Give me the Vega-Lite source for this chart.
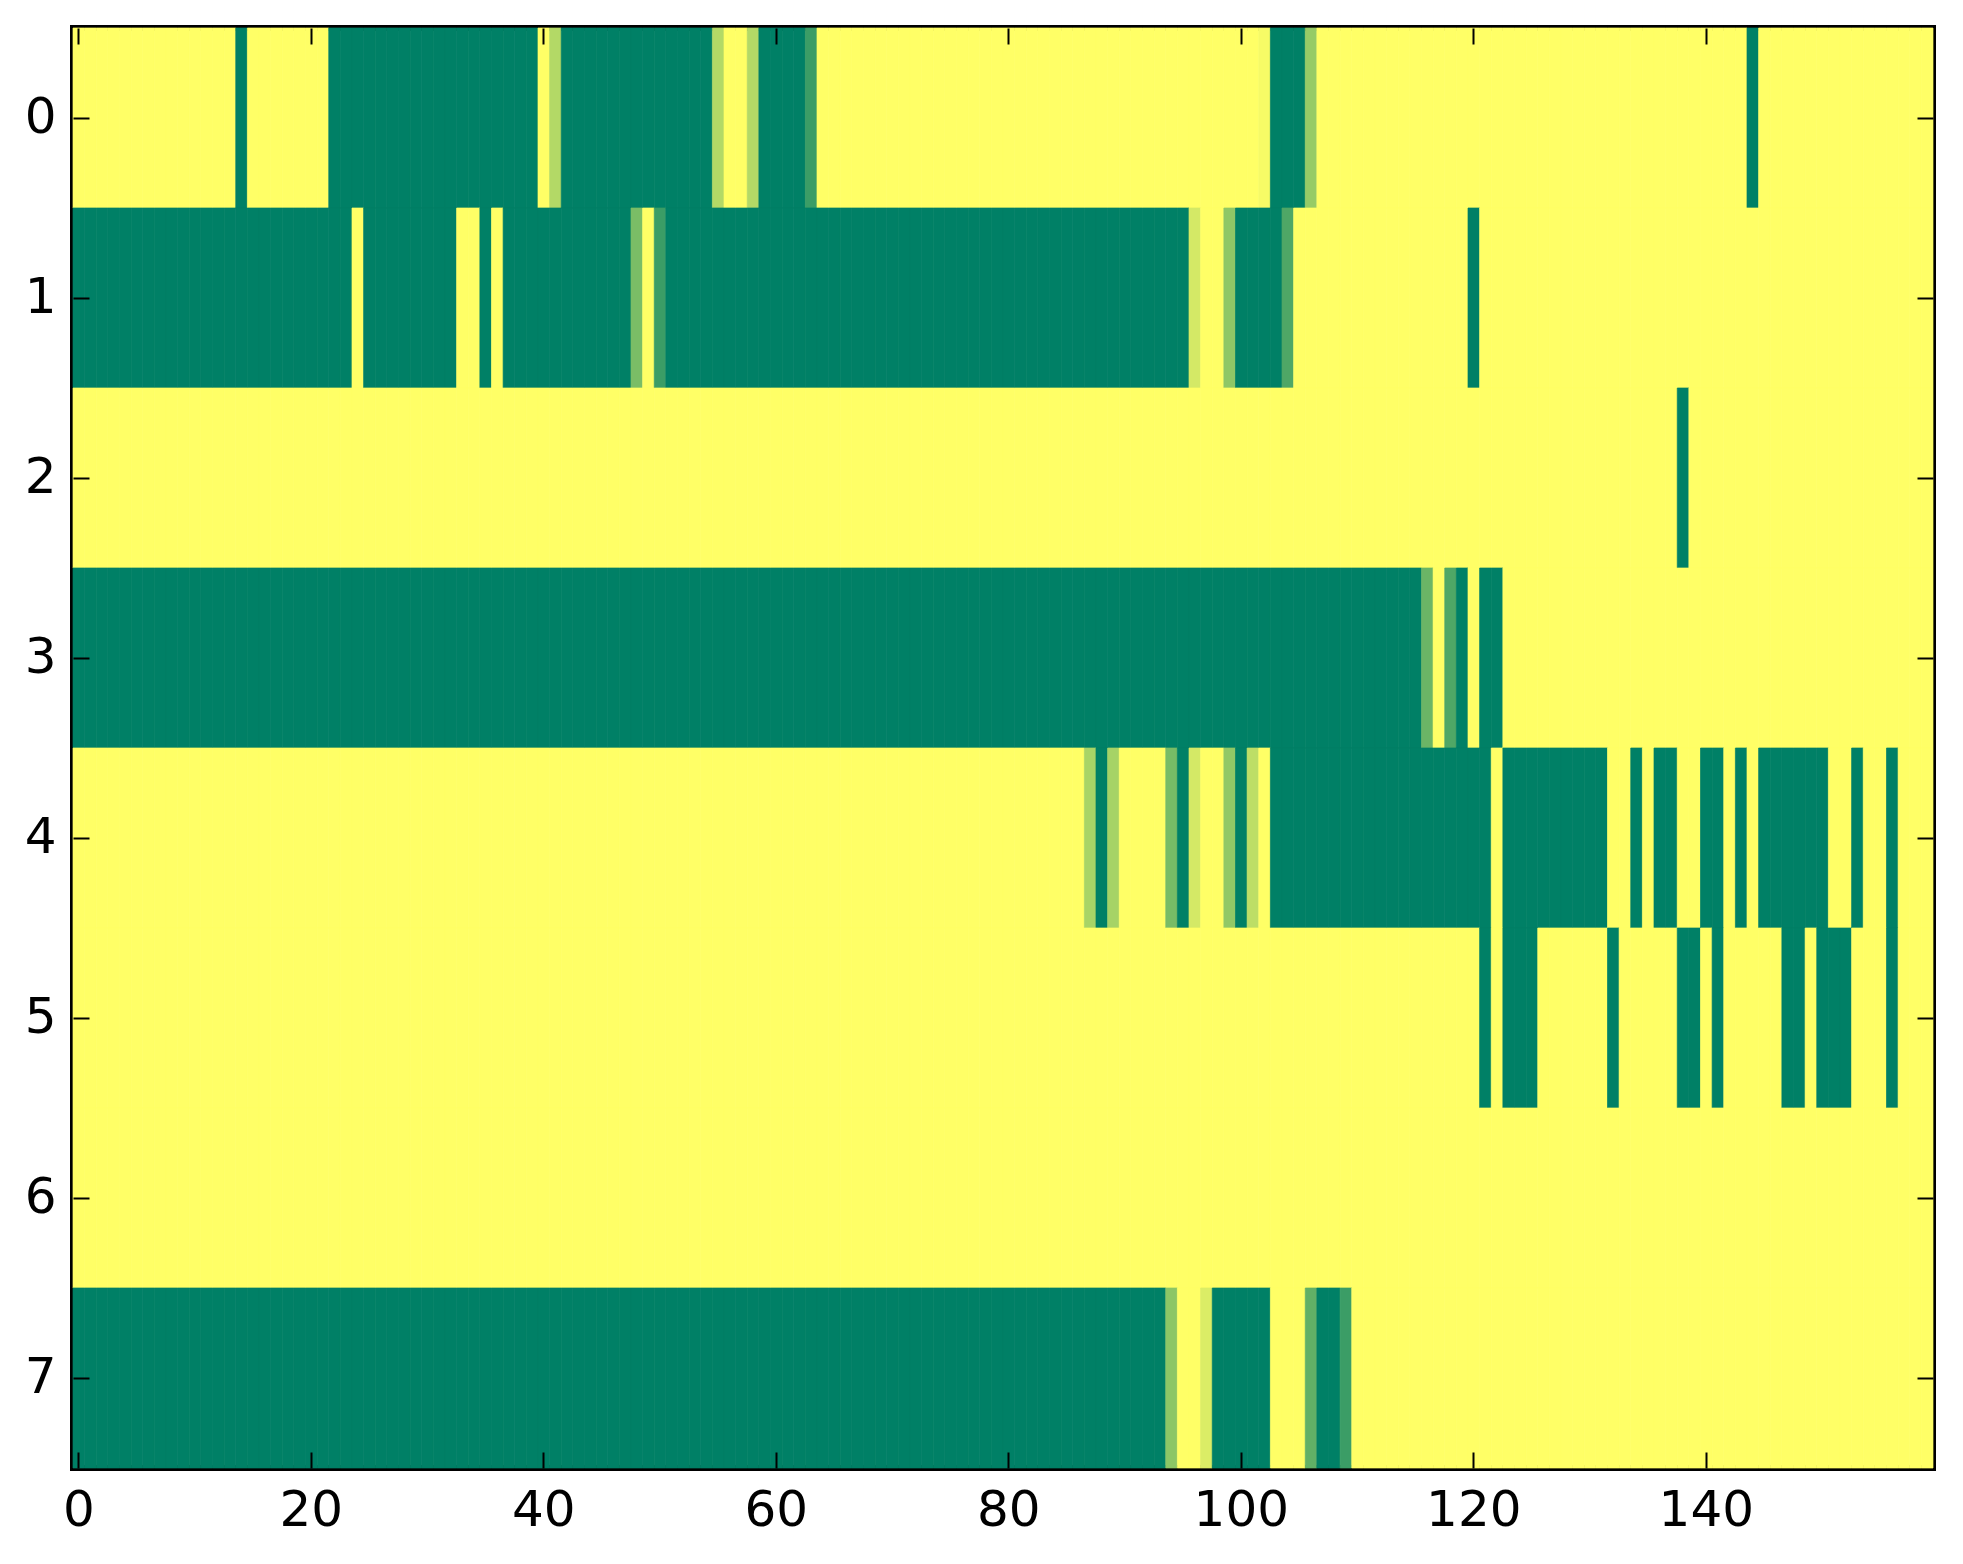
{
  "$schema": "https://vega.github.io/schema/vega-lite/v6.json",
  "width": 1860,
  "height": 1440,
  "autosize": "none",
  "padding": {"left": 73, "top": 28, "right": 30, "bottom": 96},
  "background": "white",
  "config": {
    "view": {"stroke": "black", "strokeWidth": 6},
    "axis": {"labelFont": "DejaVu Sans", "labelFontSize": 50, "labelColor": "black", "tickColor": "black", "tickWidth": 2, "tickSize": -16, "domain": false, "grid": false, "title": null}
  },
  "data": {"values": [
{"r":0,"c":0,"v":0},{"r":0,"c":1,"v":0},{"r":0,"c":2,"v":0},{"r":0,"c":3,"v":0},{"r":0,"c":4,"v":0},{"r":0,"c":5,"v":0},{"r":0,"c":6,"v":0},{"r":0,"c":7,"v":0},{"r":0,"c":8,"v":0},{"r":0,"c":9,"v":0},
{"r":0,"c":10,"v":0},{"r":0,"c":11,"v":0},{"r":0,"c":12,"v":0},{"r":0,"c":13,"v":0},{"r":0,"c":14,"v":1},{"r":0,"c":15,"v":0},{"r":0,"c":16,"v":0},{"r":0,"c":17,"v":0},{"r":0,"c":18,"v":0},{"r":0,"c":19,"v":0},
{"r":0,"c":20,"v":0},{"r":0,"c":21,"v":0},{"r":0,"c":22,"v":1},{"r":0,"c":23,"v":1},{"r":0,"c":24,"v":1},{"r":0,"c":25,"v":1},{"r":0,"c":26,"v":1},{"r":0,"c":27,"v":1},{"r":0,"c":28,"v":1},{"r":0,"c":29,"v":1},
{"r":0,"c":30,"v":1},{"r":0,"c":31,"v":1},{"r":0,"c":32,"v":1},{"r":0,"c":33,"v":1},{"r":0,"c":34,"v":1},{"r":0,"c":35,"v":1},{"r":0,"c":36,"v":1},{"r":0,"c":37,"v":1},{"r":0,"c":38,"v":1},{"r":0,"c":39,"v":1},
{"r":0,"c":40,"v":0},{"r":0,"c":41,"v":0.3},{"r":0,"c":42,"v":1},{"r":0,"c":43,"v":1},{"r":0,"c":44,"v":1},{"r":0,"c":45,"v":1},{"r":0,"c":46,"v":1},{"r":0,"c":47,"v":1},{"r":0,"c":48,"v":1},{"r":0,"c":49,"v":1},
{"r":0,"c":50,"v":1},{"r":0,"c":51,"v":1},{"r":0,"c":52,"v":1},{"r":0,"c":53,"v":1},{"r":0,"c":54,"v":1},{"r":0,"c":55,"v":0.3},{"r":0,"c":56,"v":0},{"r":0,"c":57,"v":0},{"r":0,"c":58,"v":0.3},{"r":0,"c":59,"v":1},
{"r":0,"c":60,"v":1},{"r":0,"c":61,"v":1},{"r":0,"c":62,"v":1},{"r":0,"c":63,"v":0.77},{"r":0,"c":64,"v":0},{"r":0,"c":65,"v":0},{"r":0,"c":66,"v":0},{"r":0,"c":67,"v":0},{"r":0,"c":68,"v":0},{"r":0,"c":69,"v":0},
{"r":0,"c":70,"v":0},{"r":0,"c":71,"v":0},{"r":0,"c":72,"v":0},{"r":0,"c":73,"v":0},{"r":0,"c":74,"v":0},{"r":0,"c":75,"v":0},{"r":0,"c":76,"v":0},{"r":0,"c":77,"v":0},{"r":0,"c":78,"v":0},{"r":0,"c":79,"v":0},
{"r":0,"c":80,"v":0},{"r":0,"c":81,"v":0},{"r":0,"c":82,"v":0},{"r":0,"c":83,"v":0},{"r":0,"c":84,"v":0},{"r":0,"c":85,"v":0},{"r":0,"c":86,"v":0},{"r":0,"c":87,"v":0},{"r":0,"c":88,"v":0},{"r":0,"c":89,"v":0},
{"r":0,"c":90,"v":0},{"r":0,"c":91,"v":0},{"r":0,"c":92,"v":0},{"r":0,"c":93,"v":0},{"r":0,"c":94,"v":0},{"r":0,"c":95,"v":0},{"r":0,"c":96,"v":0},{"r":0,"c":97,"v":0},{"r":0,"c":98,"v":0},{"r":0,"c":99,"v":0},
{"r":0,"c":100,"v":0},{"r":0,"c":101,"v":0},{"r":0,"c":102,"v":0.03},{"r":0,"c":103,"v":1},{"r":0,"c":104,"v":1},{"r":0,"c":105,"v":1},{"r":0,"c":106,"v":0.41},{"r":0,"c":107,"v":0},{"r":0,"c":108,"v":0},{"r":0,"c":109,"v":0},
{"r":0,"c":110,"v":0},{"r":0,"c":111,"v":0},{"r":0,"c":112,"v":0},{"r":0,"c":113,"v":0},{"r":0,"c":114,"v":0},{"r":0,"c":115,"v":0},{"r":0,"c":116,"v":0},{"r":0,"c":117,"v":0},{"r":0,"c":118,"v":0},{"r":0,"c":119,"v":0},
{"r":0,"c":120,"v":0},{"r":0,"c":121,"v":0},{"r":0,"c":122,"v":0},{"r":0,"c":123,"v":0},{"r":0,"c":124,"v":0},{"r":0,"c":125,"v":0},{"r":0,"c":126,"v":0},{"r":0,"c":127,"v":0},{"r":0,"c":128,"v":0},{"r":0,"c":129,"v":0},
{"r":0,"c":130,"v":0},{"r":0,"c":131,"v":0},{"r":0,"c":132,"v":0},{"r":0,"c":133,"v":0},{"r":0,"c":134,"v":0},{"r":0,"c":135,"v":0},{"r":0,"c":136,"v":0},{"r":0,"c":137,"v":0},{"r":0,"c":138,"v":0},{"r":0,"c":139,"v":0},
{"r":0,"c":140,"v":0},{"r":0,"c":141,"v":0},{"r":0,"c":142,"v":0},{"r":0,"c":143,"v":0},{"r":0,"c":144,"v":1},{"r":0,"c":145,"v":0},{"r":0,"c":146,"v":0},{"r":0,"c":147,"v":0},{"r":0,"c":148,"v":0},{"r":0,"c":149,"v":0},
{"r":0,"c":150,"v":0},{"r":0,"c":151,"v":0},{"r":0,"c":152,"v":0},{"r":0,"c":153,"v":0},{"r":0,"c":154,"v":0},{"r":0,"c":155,"v":0},{"r":0,"c":156,"v":0},{"r":0,"c":157,"v":0},{"r":0,"c":158,"v":0},{"r":0,"c":159,"v":0},
{"r":1,"c":0,"v":1},{"r":1,"c":1,"v":1},{"r":1,"c":2,"v":1},{"r":1,"c":3,"v":1},{"r":1,"c":4,"v":1},{"r":1,"c":5,"v":1},{"r":1,"c":6,"v":1},{"r":1,"c":7,"v":1},{"r":1,"c":8,"v":1},{"r":1,"c":9,"v":1},
{"r":1,"c":10,"v":1},{"r":1,"c":11,"v":1},{"r":1,"c":12,"v":1},{"r":1,"c":13,"v":1},{"r":1,"c":14,"v":1},{"r":1,"c":15,"v":1},{"r":1,"c":16,"v":1},{"r":1,"c":17,"v":1},{"r":1,"c":18,"v":1},{"r":1,"c":19,"v":1},
{"r":1,"c":20,"v":1},{"r":1,"c":21,"v":1},{"r":1,"c":22,"v":1},{"r":1,"c":23,"v":1},{"r":1,"c":24,"v":0},{"r":1,"c":25,"v":1},{"r":1,"c":26,"v":1},{"r":1,"c":27,"v":1},{"r":1,"c":28,"v":1},{"r":1,"c":29,"v":1},
{"r":1,"c":30,"v":1},{"r":1,"c":31,"v":1},{"r":1,"c":32,"v":1},{"r":1,"c":33,"v":0},{"r":1,"c":34,"v":0},{"r":1,"c":35,"v":1},{"r":1,"c":36,"v":0},{"r":1,"c":37,"v":1},{"r":1,"c":38,"v":1},{"r":1,"c":39,"v":1},
{"r":1,"c":40,"v":1},{"r":1,"c":41,"v":1},{"r":1,"c":42,"v":1},{"r":1,"c":43,"v":1},{"r":1,"c":44,"v":1},{"r":1,"c":45,"v":1},{"r":1,"c":46,"v":1},{"r":1,"c":47,"v":1},{"r":1,"c":48,"v":0.52},{"r":1,"c":49,"v":0},
{"r":1,"c":50,"v":0.77},{"r":1,"c":51,"v":1},{"r":1,"c":52,"v":1},{"r":1,"c":53,"v":1},{"r":1,"c":54,"v":1},{"r":1,"c":55,"v":1},{"r":1,"c":56,"v":1},{"r":1,"c":57,"v":1},{"r":1,"c":58,"v":1},{"r":1,"c":59,"v":1},
{"r":1,"c":60,"v":1},{"r":1,"c":61,"v":1},{"r":1,"c":62,"v":1},{"r":1,"c":63,"v":1},{"r":1,"c":64,"v":1},{"r":1,"c":65,"v":1},{"r":1,"c":66,"v":1},{"r":1,"c":67,"v":1},{"r":1,"c":68,"v":1},{"r":1,"c":69,"v":1},
{"r":1,"c":70,"v":1},{"r":1,"c":71,"v":1},{"r":1,"c":72,"v":1},{"r":1,"c":73,"v":1},{"r":1,"c":74,"v":1},{"r":1,"c":75,"v":1},{"r":1,"c":76,"v":1},{"r":1,"c":77,"v":1},{"r":1,"c":78,"v":1},{"r":1,"c":79,"v":1},
{"r":1,"c":80,"v":1},{"r":1,"c":81,"v":1},{"r":1,"c":82,"v":1},{"r":1,"c":83,"v":1},{"r":1,"c":84,"v":1},{"r":1,"c":85,"v":1},{"r":1,"c":86,"v":1},{"r":1,"c":87,"v":1},{"r":1,"c":88,"v":1},{"r":1,"c":89,"v":1},
{"r":1,"c":90,"v":1},{"r":1,"c":91,"v":1},{"r":1,"c":92,"v":1},{"r":1,"c":93,"v":1},{"r":1,"c":94,"v":1},{"r":1,"c":95,"v":1},{"r":1,"c":96,"v":0.17},{"r":1,"c":97,"v":0},{"r":1,"c":98,"v":0},{"r":1,"c":99,"v":0.44},
{"r":1,"c":100,"v":1},{"r":1,"c":101,"v":1},{"r":1,"c":102,"v":1},{"r":1,"c":103,"v":1},{"r":1,"c":104,"v":0.69},{"r":1,"c":105,"v":0},{"r":1,"c":106,"v":0},{"r":1,"c":107,"v":0},{"r":1,"c":108,"v":0},{"r":1,"c":109,"v":0},
{"r":1,"c":110,"v":0},{"r":1,"c":111,"v":0},{"r":1,"c":112,"v":0},{"r":1,"c":113,"v":0},{"r":1,"c":114,"v":0},{"r":1,"c":115,"v":0},{"r":1,"c":116,"v":0},{"r":1,"c":117,"v":0},{"r":1,"c":118,"v":0},{"r":1,"c":119,"v":0},
{"r":1,"c":120,"v":1},{"r":1,"c":121,"v":0},{"r":1,"c":122,"v":0},{"r":1,"c":123,"v":0},{"r":1,"c":124,"v":0},{"r":1,"c":125,"v":0},{"r":1,"c":126,"v":0},{"r":1,"c":127,"v":0},{"r":1,"c":128,"v":0},{"r":1,"c":129,"v":0},
{"r":1,"c":130,"v":0},{"r":1,"c":131,"v":0},{"r":1,"c":132,"v":0},{"r":1,"c":133,"v":0},{"r":1,"c":134,"v":0},{"r":1,"c":135,"v":0},{"r":1,"c":136,"v":0},{"r":1,"c":137,"v":0},{"r":1,"c":138,"v":0},{"r":1,"c":139,"v":0},
{"r":1,"c":140,"v":0},{"r":1,"c":141,"v":0},{"r":1,"c":142,"v":0},{"r":1,"c":143,"v":0},{"r":1,"c":144,"v":0},{"r":1,"c":145,"v":0},{"r":1,"c":146,"v":0},{"r":1,"c":147,"v":0},{"r":1,"c":148,"v":0},{"r":1,"c":149,"v":0},
{"r":1,"c":150,"v":0},{"r":1,"c":151,"v":0},{"r":1,"c":152,"v":0},{"r":1,"c":153,"v":0},{"r":1,"c":154,"v":0},{"r":1,"c":155,"v":0},{"r":1,"c":156,"v":0},{"r":1,"c":157,"v":0},{"r":1,"c":158,"v":0},{"r":1,"c":159,"v":0},
{"r":2,"c":0,"v":0},{"r":2,"c":1,"v":0},{"r":2,"c":2,"v":0},{"r":2,"c":3,"v":0},{"r":2,"c":4,"v":0},{"r":2,"c":5,"v":0},{"r":2,"c":6,"v":0},{"r":2,"c":7,"v":0},{"r":2,"c":8,"v":0},{"r":2,"c":9,"v":0},
{"r":2,"c":10,"v":0},{"r":2,"c":11,"v":0},{"r":2,"c":12,"v":0},{"r":2,"c":13,"v":0},{"r":2,"c":14,"v":0},{"r":2,"c":15,"v":0},{"r":2,"c":16,"v":0},{"r":2,"c":17,"v":0},{"r":2,"c":18,"v":0},{"r":2,"c":19,"v":0},
{"r":2,"c":20,"v":0},{"r":2,"c":21,"v":0},{"r":2,"c":22,"v":0},{"r":2,"c":23,"v":0},{"r":2,"c":24,"v":0},{"r":2,"c":25,"v":0},{"r":2,"c":26,"v":0},{"r":2,"c":27,"v":0},{"r":2,"c":28,"v":0},{"r":2,"c":29,"v":0},
{"r":2,"c":30,"v":0},{"r":2,"c":31,"v":0},{"r":2,"c":32,"v":0},{"r":2,"c":33,"v":0},{"r":2,"c":34,"v":0},{"r":2,"c":35,"v":0},{"r":2,"c":36,"v":0},{"r":2,"c":37,"v":0},{"r":2,"c":38,"v":0},{"r":2,"c":39,"v":0},
{"r":2,"c":40,"v":0},{"r":2,"c":41,"v":0},{"r":2,"c":42,"v":0},{"r":2,"c":43,"v":0},{"r":2,"c":44,"v":0},{"r":2,"c":45,"v":0},{"r":2,"c":46,"v":0},{"r":2,"c":47,"v":0},{"r":2,"c":48,"v":0},{"r":2,"c":49,"v":0},
{"r":2,"c":50,"v":0},{"r":2,"c":51,"v":0},{"r":2,"c":52,"v":0},{"r":2,"c":53,"v":0},{"r":2,"c":54,"v":0},{"r":2,"c":55,"v":0},{"r":2,"c":56,"v":0},{"r":2,"c":57,"v":0},{"r":2,"c":58,"v":0},{"r":2,"c":59,"v":0},
{"r":2,"c":60,"v":0},{"r":2,"c":61,"v":0},{"r":2,"c":62,"v":0},{"r":2,"c":63,"v":0},{"r":2,"c":64,"v":0},{"r":2,"c":65,"v":0},{"r":2,"c":66,"v":0},{"r":2,"c":67,"v":0},{"r":2,"c":68,"v":0},{"r":2,"c":69,"v":0},
{"r":2,"c":70,"v":0},{"r":2,"c":71,"v":0},{"r":2,"c":72,"v":0},{"r":2,"c":73,"v":0},{"r":2,"c":74,"v":0},{"r":2,"c":75,"v":0},{"r":2,"c":76,"v":0},{"r":2,"c":77,"v":0},{"r":2,"c":78,"v":0},{"r":2,"c":79,"v":0},
{"r":2,"c":80,"v":0},{"r":2,"c":81,"v":0},{"r":2,"c":82,"v":0},{"r":2,"c":83,"v":0},{"r":2,"c":84,"v":0},{"r":2,"c":85,"v":0},{"r":2,"c":86,"v":0},{"r":2,"c":87,"v":0},{"r":2,"c":88,"v":0},{"r":2,"c":89,"v":0},
{"r":2,"c":90,"v":0},{"r":2,"c":91,"v":0},{"r":2,"c":92,"v":0},{"r":2,"c":93,"v":0},{"r":2,"c":94,"v":0},{"r":2,"c":95,"v":0},{"r":2,"c":96,"v":0},{"r":2,"c":97,"v":0},{"r":2,"c":98,"v":0},{"r":2,"c":99,"v":0},
{"r":2,"c":100,"v":0},{"r":2,"c":101,"v":0},{"r":2,"c":102,"v":0},{"r":2,"c":103,"v":0},{"r":2,"c":104,"v":0},{"r":2,"c":105,"v":0},{"r":2,"c":106,"v":0},{"r":2,"c":107,"v":0},{"r":2,"c":108,"v":0},{"r":2,"c":109,"v":0},
{"r":2,"c":110,"v":0},{"r":2,"c":111,"v":0},{"r":2,"c":112,"v":0},{"r":2,"c":113,"v":0},{"r":2,"c":114,"v":0},{"r":2,"c":115,"v":0},{"r":2,"c":116,"v":0},{"r":2,"c":117,"v":0},{"r":2,"c":118,"v":0},{"r":2,"c":119,"v":0},
{"r":2,"c":120,"v":0},{"r":2,"c":121,"v":0},{"r":2,"c":122,"v":0},{"r":2,"c":123,"v":0},{"r":2,"c":124,"v":0},{"r":2,"c":125,"v":0},{"r":2,"c":126,"v":0},{"r":2,"c":127,"v":0},{"r":2,"c":128,"v":0},{"r":2,"c":129,"v":0},
{"r":2,"c":130,"v":0},{"r":2,"c":131,"v":0},{"r":2,"c":132,"v":0},{"r":2,"c":133,"v":0},{"r":2,"c":134,"v":0},{"r":2,"c":135,"v":0},{"r":2,"c":136,"v":0},{"r":2,"c":137,"v":0},{"r":2,"c":138,"v":1},{"r":2,"c":139,"v":0},
{"r":2,"c":140,"v":0},{"r":2,"c":141,"v":0},{"r":2,"c":142,"v":0},{"r":2,"c":143,"v":0},{"r":2,"c":144,"v":0},{"r":2,"c":145,"v":0},{"r":2,"c":146,"v":0},{"r":2,"c":147,"v":0},{"r":2,"c":148,"v":0},{"r":2,"c":149,"v":0},
{"r":2,"c":150,"v":0},{"r":2,"c":151,"v":0},{"r":2,"c":152,"v":0},{"r":2,"c":153,"v":0},{"r":2,"c":154,"v":0},{"r":2,"c":155,"v":0},{"r":2,"c":156,"v":0},{"r":2,"c":157,"v":0},{"r":2,"c":158,"v":0},{"r":2,"c":159,"v":0},
{"r":3,"c":0,"v":1},{"r":3,"c":1,"v":1},{"r":3,"c":2,"v":1},{"r":3,"c":3,"v":1},{"r":3,"c":4,"v":1},{"r":3,"c":5,"v":1},{"r":3,"c":6,"v":1},{"r":3,"c":7,"v":1},{"r":3,"c":8,"v":1},{"r":3,"c":9,"v":1},
{"r":3,"c":10,"v":1},{"r":3,"c":11,"v":1},{"r":3,"c":12,"v":1},{"r":3,"c":13,"v":1},{"r":3,"c":14,"v":1},{"r":3,"c":15,"v":1},{"r":3,"c":16,"v":1},{"r":3,"c":17,"v":1},{"r":3,"c":18,"v":1},{"r":3,"c":19,"v":1},
{"r":3,"c":20,"v":1},{"r":3,"c":21,"v":1},{"r":3,"c":22,"v":1},{"r":3,"c":23,"v":1},{"r":3,"c":24,"v":1},{"r":3,"c":25,"v":1},{"r":3,"c":26,"v":1},{"r":3,"c":27,"v":1},{"r":3,"c":28,"v":1},{"r":3,"c":29,"v":1},
{"r":3,"c":30,"v":1},{"r":3,"c":31,"v":1},{"r":3,"c":32,"v":1},{"r":3,"c":33,"v":1},{"r":3,"c":34,"v":1},{"r":3,"c":35,"v":1},{"r":3,"c":36,"v":1},{"r":3,"c":37,"v":1},{"r":3,"c":38,"v":1},{"r":3,"c":39,"v":1},
{"r":3,"c":40,"v":1},{"r":3,"c":41,"v":1},{"r":3,"c":42,"v":1},{"r":3,"c":43,"v":1},{"r":3,"c":44,"v":1},{"r":3,"c":45,"v":1},{"r":3,"c":46,"v":1},{"r":3,"c":47,"v":1},{"r":3,"c":48,"v":1},{"r":3,"c":49,"v":1},
{"r":3,"c":50,"v":1},{"r":3,"c":51,"v":1},{"r":3,"c":52,"v":1},{"r":3,"c":53,"v":1},{"r":3,"c":54,"v":1},{"r":3,"c":55,"v":1},{"r":3,"c":56,"v":1},{"r":3,"c":57,"v":1},{"r":3,"c":58,"v":1},{"r":3,"c":59,"v":1},
{"r":3,"c":60,"v":1},{"r":3,"c":61,"v":1},{"r":3,"c":62,"v":1},{"r":3,"c":63,"v":1},{"r":3,"c":64,"v":1},{"r":3,"c":65,"v":1},{"r":3,"c":66,"v":1},{"r":3,"c":67,"v":1},{"r":3,"c":68,"v":1},{"r":3,"c":69,"v":1},
{"r":3,"c":70,"v":1},{"r":3,"c":71,"v":1},{"r":3,"c":72,"v":1},{"r":3,"c":73,"v":1},{"r":3,"c":74,"v":1},{"r":3,"c":75,"v":1},{"r":3,"c":76,"v":1},{"r":3,"c":77,"v":1},{"r":3,"c":78,"v":1},{"r":3,"c":79,"v":1},
{"r":3,"c":80,"v":1},{"r":3,"c":81,"v":1},{"r":3,"c":82,"v":1},{"r":3,"c":83,"v":1},{"r":3,"c":84,"v":1},{"r":3,"c":85,"v":1},{"r":3,"c":86,"v":1},{"r":3,"c":87,"v":1},{"r":3,"c":88,"v":1},{"r":3,"c":89,"v":1},
{"r":3,"c":90,"v":1},{"r":3,"c":91,"v":1},{"r":3,"c":92,"v":1},{"r":3,"c":93,"v":1},{"r":3,"c":94,"v":1},{"r":3,"c":95,"v":1},{"r":3,"c":96,"v":1},{"r":3,"c":97,"v":1},{"r":3,"c":98,"v":1},{"r":3,"c":99,"v":1},
{"r":3,"c":100,"v":1},{"r":3,"c":101,"v":1},{"r":3,"c":102,"v":1},{"r":3,"c":103,"v":1},{"r":3,"c":104,"v":1},{"r":3,"c":105,"v":1},{"r":3,"c":106,"v":1},{"r":3,"c":107,"v":1},{"r":3,"c":108,"v":1},{"r":3,"c":109,"v":1},
{"r":3,"c":110,"v":1},{"r":3,"c":111,"v":1},{"r":3,"c":112,"v":1},{"r":3,"c":113,"v":1},{"r":3,"c":114,"v":1},{"r":3,"c":115,"v":1},{"r":3,"c":116,"v":0.58},{"r":3,"c":117,"v":0},{"r":3,"c":118,"v":0.69},{"r":3,"c":119,"v":1},
{"r":3,"c":120,"v":0},{"r":3,"c":121,"v":1},{"r":3,"c":122,"v":1},{"r":3,"c":123,"v":0},{"r":3,"c":124,"v":0},{"r":3,"c":125,"v":0},{"r":3,"c":126,"v":0},{"r":3,"c":127,"v":0},{"r":3,"c":128,"v":0},{"r":3,"c":129,"v":0},
{"r":3,"c":130,"v":0},{"r":3,"c":131,"v":0},{"r":3,"c":132,"v":0},{"r":3,"c":133,"v":0},{"r":3,"c":134,"v":0},{"r":3,"c":135,"v":0},{"r":3,"c":136,"v":0},{"r":3,"c":137,"v":0},{"r":3,"c":138,"v":0},{"r":3,"c":139,"v":0},
{"r":3,"c":140,"v":0},{"r":3,"c":141,"v":0},{"r":3,"c":142,"v":0},{"r":3,"c":143,"v":0},{"r":3,"c":144,"v":0},{"r":3,"c":145,"v":0},{"r":3,"c":146,"v":0},{"r":3,"c":147,"v":0},{"r":3,"c":148,"v":0},{"r":3,"c":149,"v":0},
{"r":3,"c":150,"v":0},{"r":3,"c":151,"v":0},{"r":3,"c":152,"v":0},{"r":3,"c":153,"v":0},{"r":3,"c":154,"v":0},{"r":3,"c":155,"v":0},{"r":3,"c":156,"v":0},{"r":3,"c":157,"v":0},{"r":3,"c":158,"v":0},{"r":3,"c":159,"v":0},
{"r":4,"c":0,"v":0},{"r":4,"c":1,"v":0},{"r":4,"c":2,"v":0},{"r":4,"c":3,"v":0},{"r":4,"c":4,"v":0},{"r":4,"c":5,"v":0},{"r":4,"c":6,"v":0},{"r":4,"c":7,"v":0},{"r":4,"c":8,"v":0},{"r":4,"c":9,"v":0},
{"r":4,"c":10,"v":0},{"r":4,"c":11,"v":0},{"r":4,"c":12,"v":0},{"r":4,"c":13,"v":0},{"r":4,"c":14,"v":0},{"r":4,"c":15,"v":0},{"r":4,"c":16,"v":0},{"r":4,"c":17,"v":0},{"r":4,"c":18,"v":0},{"r":4,"c":19,"v":0},
{"r":4,"c":20,"v":0},{"r":4,"c":21,"v":0},{"r":4,"c":22,"v":0},{"r":4,"c":23,"v":0},{"r":4,"c":24,"v":0},{"r":4,"c":25,"v":0},{"r":4,"c":26,"v":0},{"r":4,"c":27,"v":0},{"r":4,"c":28,"v":0},{"r":4,"c":29,"v":0},
{"r":4,"c":30,"v":0},{"r":4,"c":31,"v":0},{"r":4,"c":32,"v":0},{"r":4,"c":33,"v":0},{"r":4,"c":34,"v":0},{"r":4,"c":35,"v":0},{"r":4,"c":36,"v":0},{"r":4,"c":37,"v":0},{"r":4,"c":38,"v":0},{"r":4,"c":39,"v":0},
{"r":4,"c":40,"v":0},{"r":4,"c":41,"v":0},{"r":4,"c":42,"v":0},{"r":4,"c":43,"v":0},{"r":4,"c":44,"v":0},{"r":4,"c":45,"v":0},{"r":4,"c":46,"v":0},{"r":4,"c":47,"v":0},{"r":4,"c":48,"v":0},{"r":4,"c":49,"v":0},
{"r":4,"c":50,"v":0},{"r":4,"c":51,"v":0},{"r":4,"c":52,"v":0},{"r":4,"c":53,"v":0},{"r":4,"c":54,"v":0},{"r":4,"c":55,"v":0},{"r":4,"c":56,"v":0},{"r":4,"c":57,"v":0},{"r":4,"c":58,"v":0},{"r":4,"c":59,"v":0},
{"r":4,"c":60,"v":0},{"r":4,"c":61,"v":0},{"r":4,"c":62,"v":0},{"r":4,"c":63,"v":0},{"r":4,"c":64,"v":0},{"r":4,"c":65,"v":0},{"r":4,"c":66,"v":0},{"r":4,"c":67,"v":0},{"r":4,"c":68,"v":0},{"r":4,"c":69,"v":0},
{"r":4,"c":70,"v":0},{"r":4,"c":71,"v":0},{"r":4,"c":72,"v":0},{"r":4,"c":73,"v":0},{"r":4,"c":74,"v":0},{"r":4,"c":75,"v":0},{"r":4,"c":76,"v":0},{"r":4,"c":77,"v":0},{"r":4,"c":78,"v":0},{"r":4,"c":79,"v":0},
{"r":4,"c":80,"v":0},{"r":4,"c":81,"v":0},{"r":4,"c":82,"v":0},{"r":4,"c":83,"v":0},{"r":4,"c":84,"v":0},{"r":4,"c":85,"v":0},{"r":4,"c":86,"v":0},{"r":4,"c":87,"v":0.34},{"r":4,"c":88,"v":1},{"r":4,"c":89,"v":0.35},
{"r":4,"c":90,"v":0},{"r":4,"c":91,"v":0},{"r":4,"c":92,"v":0},{"r":4,"c":93,"v":0},{"r":4,"c":94,"v":0.53},{"r":4,"c":95,"v":1},{"r":4,"c":96,"v":0.17},{"r":4,"c":97,"v":0},{"r":4,"c":98,"v":0},{"r":4,"c":99,"v":0.43},
{"r":4,"c":100,"v":1},{"r":4,"c":101,"v":0.26},{"r":4,"c":102,"v":0},{"r":4,"c":103,"v":1},{"r":4,"c":104,"v":1},{"r":4,"c":105,"v":1},{"r":4,"c":106,"v":1},{"r":4,"c":107,"v":1},{"r":4,"c":108,"v":1},{"r":4,"c":109,"v":1},
{"r":4,"c":110,"v":1},{"r":4,"c":111,"v":1},{"r":4,"c":112,"v":1},{"r":4,"c":113,"v":1},{"r":4,"c":114,"v":1},{"r":4,"c":115,"v":1},{"r":4,"c":116,"v":1},{"r":4,"c":117,"v":1},{"r":4,"c":118,"v":1},{"r":4,"c":119,"v":1},
{"r":4,"c":120,"v":1},{"r":4,"c":121,"v":1},{"r":4,"c":122,"v":0},{"r":4,"c":123,"v":1},{"r":4,"c":124,"v":1},{"r":4,"c":125,"v":1},{"r":4,"c":126,"v":1},{"r":4,"c":127,"v":1},{"r":4,"c":128,"v":1},{"r":4,"c":129,"v":1},
{"r":4,"c":130,"v":1},{"r":4,"c":131,"v":1},{"r":4,"c":132,"v":0},{"r":4,"c":133,"v":0},{"r":4,"c":134,"v":1},{"r":4,"c":135,"v":0},{"r":4,"c":136,"v":1},{"r":4,"c":137,"v":1},{"r":4,"c":138,"v":0},{"r":4,"c":139,"v":0},
{"r":4,"c":140,"v":1},{"r":4,"c":141,"v":1},{"r":4,"c":142,"v":0},{"r":4,"c":143,"v":1},{"r":4,"c":144,"v":0},{"r":4,"c":145,"v":1},{"r":4,"c":146,"v":1},{"r":4,"c":147,"v":1},{"r":4,"c":148,"v":1},{"r":4,"c":149,"v":1},
{"r":4,"c":150,"v":1},{"r":4,"c":151,"v":0},{"r":4,"c":152,"v":0},{"r":4,"c":153,"v":1},{"r":4,"c":154,"v":0},{"r":4,"c":155,"v":0},{"r":4,"c":156,"v":1},{"r":4,"c":157,"v":0},{"r":4,"c":158,"v":0},{"r":4,"c":159,"v":0},
{"r":5,"c":0,"v":0},{"r":5,"c":1,"v":0},{"r":5,"c":2,"v":0},{"r":5,"c":3,"v":0},{"r":5,"c":4,"v":0},{"r":5,"c":5,"v":0},{"r":5,"c":6,"v":0},{"r":5,"c":7,"v":0},{"r":5,"c":8,"v":0},{"r":5,"c":9,"v":0},
{"r":5,"c":10,"v":0},{"r":5,"c":11,"v":0},{"r":5,"c":12,"v":0},{"r":5,"c":13,"v":0},{"r":5,"c":14,"v":0},{"r":5,"c":15,"v":0},{"r":5,"c":16,"v":0},{"r":5,"c":17,"v":0},{"r":5,"c":18,"v":0},{"r":5,"c":19,"v":0},
{"r":5,"c":20,"v":0},{"r":5,"c":21,"v":0},{"r":5,"c":22,"v":0},{"r":5,"c":23,"v":0},{"r":5,"c":24,"v":0},{"r":5,"c":25,"v":0},{"r":5,"c":26,"v":0},{"r":5,"c":27,"v":0},{"r":5,"c":28,"v":0},{"r":5,"c":29,"v":0},
{"r":5,"c":30,"v":0},{"r":5,"c":31,"v":0},{"r":5,"c":32,"v":0},{"r":5,"c":33,"v":0},{"r":5,"c":34,"v":0},{"r":5,"c":35,"v":0},{"r":5,"c":36,"v":0},{"r":5,"c":37,"v":0},{"r":5,"c":38,"v":0},{"r":5,"c":39,"v":0},
{"r":5,"c":40,"v":0},{"r":5,"c":41,"v":0},{"r":5,"c":42,"v":0},{"r":5,"c":43,"v":0},{"r":5,"c":44,"v":0},{"r":5,"c":45,"v":0},{"r":5,"c":46,"v":0},{"r":5,"c":47,"v":0},{"r":5,"c":48,"v":0},{"r":5,"c":49,"v":0},
{"r":5,"c":50,"v":0},{"r":5,"c":51,"v":0},{"r":5,"c":52,"v":0},{"r":5,"c":53,"v":0},{"r":5,"c":54,"v":0},{"r":5,"c":55,"v":0},{"r":5,"c":56,"v":0},{"r":5,"c":57,"v":0},{"r":5,"c":58,"v":0},{"r":5,"c":59,"v":0},
{"r":5,"c":60,"v":0},{"r":5,"c":61,"v":0},{"r":5,"c":62,"v":0},{"r":5,"c":63,"v":0},{"r":5,"c":64,"v":0},{"r":5,"c":65,"v":0},{"r":5,"c":66,"v":0},{"r":5,"c":67,"v":0},{"r":5,"c":68,"v":0},{"r":5,"c":69,"v":0},
{"r":5,"c":70,"v":0},{"r":5,"c":71,"v":0},{"r":5,"c":72,"v":0},{"r":5,"c":73,"v":0},{"r":5,"c":74,"v":0},{"r":5,"c":75,"v":0},{"r":5,"c":76,"v":0},{"r":5,"c":77,"v":0},{"r":5,"c":78,"v":0},{"r":5,"c":79,"v":0},
{"r":5,"c":80,"v":0},{"r":5,"c":81,"v":0},{"r":5,"c":82,"v":0},{"r":5,"c":83,"v":0},{"r":5,"c":84,"v":0},{"r":5,"c":85,"v":0},{"r":5,"c":86,"v":0},{"r":5,"c":87,"v":0},{"r":5,"c":88,"v":0},{"r":5,"c":89,"v":0},
{"r":5,"c":90,"v":0},{"r":5,"c":91,"v":0},{"r":5,"c":92,"v":0},{"r":5,"c":93,"v":0},{"r":5,"c":94,"v":0},{"r":5,"c":95,"v":0},{"r":5,"c":96,"v":0},{"r":5,"c":97,"v":0},{"r":5,"c":98,"v":0},{"r":5,"c":99,"v":0},
{"r":5,"c":100,"v":0},{"r":5,"c":101,"v":0},{"r":5,"c":102,"v":0},{"r":5,"c":103,"v":0},{"r":5,"c":104,"v":0},{"r":5,"c":105,"v":0},{"r":5,"c":106,"v":0},{"r":5,"c":107,"v":0},{"r":5,"c":108,"v":0},{"r":5,"c":109,"v":0},
{"r":5,"c":110,"v":0},{"r":5,"c":111,"v":0},{"r":5,"c":112,"v":0},{"r":5,"c":113,"v":0},{"r":5,"c":114,"v":0},{"r":5,"c":115,"v":0},{"r":5,"c":116,"v":0},{"r":5,"c":117,"v":0},{"r":5,"c":118,"v":0},{"r":5,"c":119,"v":0},
{"r":5,"c":120,"v":0},{"r":5,"c":121,"v":1},{"r":5,"c":122,"v":0},{"r":5,"c":123,"v":1},{"r":5,"c":124,"v":1},{"r":5,"c":125,"v":1},{"r":5,"c":126,"v":0},{"r":5,"c":127,"v":0},{"r":5,"c":128,"v":0},{"r":5,"c":129,"v":0},
{"r":5,"c":130,"v":0},{"r":5,"c":131,"v":0},{"r":5,"c":132,"v":1},{"r":5,"c":133,"v":0},{"r":5,"c":134,"v":0},{"r":5,"c":135,"v":0},{"r":5,"c":136,"v":0},{"r":5,"c":137,"v":0},{"r":5,"c":138,"v":1},{"r":5,"c":139,"v":1},
{"r":5,"c":140,"v":0},{"r":5,"c":141,"v":1},{"r":5,"c":142,"v":0},{"r":5,"c":143,"v":0},{"r":5,"c":144,"v":0},{"r":5,"c":145,"v":0},{"r":5,"c":146,"v":0},{"r":5,"c":147,"v":1},{"r":5,"c":148,"v":1},{"r":5,"c":149,"v":0},
{"r":5,"c":150,"v":1},{"r":5,"c":151,"v":1},{"r":5,"c":152,"v":1},{"r":5,"c":153,"v":0},{"r":5,"c":154,"v":0},{"r":5,"c":155,"v":0},{"r":5,"c":156,"v":1},{"r":5,"c":157,"v":0},{"r":5,"c":158,"v":0},{"r":5,"c":159,"v":0},
{"r":6,"c":0,"v":0},{"r":6,"c":1,"v":0},{"r":6,"c":2,"v":0},{"r":6,"c":3,"v":0},{"r":6,"c":4,"v":0},{"r":6,"c":5,"v":0},{"r":6,"c":6,"v":0},{"r":6,"c":7,"v":0},{"r":6,"c":8,"v":0},{"r":6,"c":9,"v":0},
{"r":6,"c":10,"v":0},{"r":6,"c":11,"v":0},{"r":6,"c":12,"v":0},{"r":6,"c":13,"v":0},{"r":6,"c":14,"v":0},{"r":6,"c":15,"v":0},{"r":6,"c":16,"v":0},{"r":6,"c":17,"v":0},{"r":6,"c":18,"v":0},{"r":6,"c":19,"v":0},
{"r":6,"c":20,"v":0},{"r":6,"c":21,"v":0},{"r":6,"c":22,"v":0},{"r":6,"c":23,"v":0},{"r":6,"c":24,"v":0},{"r":6,"c":25,"v":0},{"r":6,"c":26,"v":0},{"r":6,"c":27,"v":0},{"r":6,"c":28,"v":0},{"r":6,"c":29,"v":0},
{"r":6,"c":30,"v":0},{"r":6,"c":31,"v":0},{"r":6,"c":32,"v":0},{"r":6,"c":33,"v":0},{"r":6,"c":34,"v":0},{"r":6,"c":35,"v":0},{"r":6,"c":36,"v":0},{"r":6,"c":37,"v":0},{"r":6,"c":38,"v":0},{"r":6,"c":39,"v":0},
{"r":6,"c":40,"v":0},{"r":6,"c":41,"v":0},{"r":6,"c":42,"v":0},{"r":6,"c":43,"v":0},{"r":6,"c":44,"v":0},{"r":6,"c":45,"v":0},{"r":6,"c":46,"v":0},{"r":6,"c":47,"v":0},{"r":6,"c":48,"v":0},{"r":6,"c":49,"v":0},
{"r":6,"c":50,"v":0},{"r":6,"c":51,"v":0},{"r":6,"c":52,"v":0},{"r":6,"c":53,"v":0},{"r":6,"c":54,"v":0},{"r":6,"c":55,"v":0},{"r":6,"c":56,"v":0},{"r":6,"c":57,"v":0},{"r":6,"c":58,"v":0},{"r":6,"c":59,"v":0},
{"r":6,"c":60,"v":0},{"r":6,"c":61,"v":0},{"r":6,"c":62,"v":0},{"r":6,"c":63,"v":0},{"r":6,"c":64,"v":0},{"r":6,"c":65,"v":0},{"r":6,"c":66,"v":0},{"r":6,"c":67,"v":0},{"r":6,"c":68,"v":0},{"r":6,"c":69,"v":0},
{"r":6,"c":70,"v":0},{"r":6,"c":71,"v":0},{"r":6,"c":72,"v":0},{"r":6,"c":73,"v":0},{"r":6,"c":74,"v":0},{"r":6,"c":75,"v":0},{"r":6,"c":76,"v":0},{"r":6,"c":77,"v":0},{"r":6,"c":78,"v":0},{"r":6,"c":79,"v":0},
{"r":6,"c":80,"v":0},{"r":6,"c":81,"v":0},{"r":6,"c":82,"v":0},{"r":6,"c":83,"v":0},{"r":6,"c":84,"v":0},{"r":6,"c":85,"v":0},{"r":6,"c":86,"v":0},{"r":6,"c":87,"v":0},{"r":6,"c":88,"v":0},{"r":6,"c":89,"v":0},
{"r":6,"c":90,"v":0},{"r":6,"c":91,"v":0},{"r":6,"c":92,"v":0},{"r":6,"c":93,"v":0},{"r":6,"c":94,"v":0},{"r":6,"c":95,"v":0},{"r":6,"c":96,"v":0},{"r":6,"c":97,"v":0},{"r":6,"c":98,"v":0},{"r":6,"c":99,"v":0},
{"r":6,"c":100,"v":0},{"r":6,"c":101,"v":0},{"r":6,"c":102,"v":0},{"r":6,"c":103,"v":0},{"r":6,"c":104,"v":0},{"r":6,"c":105,"v":0},{"r":6,"c":106,"v":0},{"r":6,"c":107,"v":0},{"r":6,"c":108,"v":0},{"r":6,"c":109,"v":0},
{"r":6,"c":110,"v":0},{"r":6,"c":111,"v":0},{"r":6,"c":112,"v":0},{"r":6,"c":113,"v":0},{"r":6,"c":114,"v":0},{"r":6,"c":115,"v":0},{"r":6,"c":116,"v":0},{"r":6,"c":117,"v":0},{"r":6,"c":118,"v":0},{"r":6,"c":119,"v":0},
{"r":6,"c":120,"v":0},{"r":6,"c":121,"v":0},{"r":6,"c":122,"v":0},{"r":6,"c":123,"v":0},{"r":6,"c":124,"v":0},{"r":6,"c":125,"v":0},{"r":6,"c":126,"v":0},{"r":6,"c":127,"v":0},{"r":6,"c":128,"v":0},{"r":6,"c":129,"v":0},
{"r":6,"c":130,"v":0},{"r":6,"c":131,"v":0},{"r":6,"c":132,"v":0},{"r":6,"c":133,"v":0},{"r":6,"c":134,"v":0},{"r":6,"c":135,"v":0},{"r":6,"c":136,"v":0},{"r":6,"c":137,"v":0},{"r":6,"c":138,"v":0},{"r":6,"c":139,"v":0},
{"r":6,"c":140,"v":0},{"r":6,"c":141,"v":0},{"r":6,"c":142,"v":0},{"r":6,"c":143,"v":0},{"r":6,"c":144,"v":0},{"r":6,"c":145,"v":0},{"r":6,"c":146,"v":0},{"r":6,"c":147,"v":0},{"r":6,"c":148,"v":0},{"r":6,"c":149,"v":0},
{"r":6,"c":150,"v":0},{"r":6,"c":151,"v":0},{"r":6,"c":152,"v":0},{"r":6,"c":153,"v":0},{"r":6,"c":154,"v":0},{"r":6,"c":155,"v":0},{"r":6,"c":156,"v":0},{"r":6,"c":157,"v":0},{"r":6,"c":158,"v":0},{"r":6,"c":159,"v":0},
{"r":7,"c":0,"v":1},{"r":7,"c":1,"v":1},{"r":7,"c":2,"v":1},{"r":7,"c":3,"v":1},{"r":7,"c":4,"v":1},{"r":7,"c":5,"v":1},{"r":7,"c":6,"v":1},{"r":7,"c":7,"v":1},{"r":7,"c":8,"v":1},{"r":7,"c":9,"v":1},
{"r":7,"c":10,"v":1},{"r":7,"c":11,"v":1},{"r":7,"c":12,"v":1},{"r":7,"c":13,"v":1},{"r":7,"c":14,"v":1},{"r":7,"c":15,"v":1},{"r":7,"c":16,"v":1},{"r":7,"c":17,"v":1},{"r":7,"c":18,"v":1},{"r":7,"c":19,"v":1},
{"r":7,"c":20,"v":1},{"r":7,"c":21,"v":1},{"r":7,"c":22,"v":1},{"r":7,"c":23,"v":1},{"r":7,"c":24,"v":1},{"r":7,"c":25,"v":1},{"r":7,"c":26,"v":1},{"r":7,"c":27,"v":1},{"r":7,"c":28,"v":1},{"r":7,"c":29,"v":1},
{"r":7,"c":30,"v":1},{"r":7,"c":31,"v":1},{"r":7,"c":32,"v":1},{"r":7,"c":33,"v":1},{"r":7,"c":34,"v":1},{"r":7,"c":35,"v":1},{"r":7,"c":36,"v":1},{"r":7,"c":37,"v":1},{"r":7,"c":38,"v":1},{"r":7,"c":39,"v":1},
{"r":7,"c":40,"v":1},{"r":7,"c":41,"v":1},{"r":7,"c":42,"v":1},{"r":7,"c":43,"v":1},{"r":7,"c":44,"v":1},{"r":7,"c":45,"v":1},{"r":7,"c":46,"v":1},{"r":7,"c":47,"v":1},{"r":7,"c":48,"v":1},{"r":7,"c":49,"v":1},
{"r":7,"c":50,"v":1},{"r":7,"c":51,"v":1},{"r":7,"c":52,"v":1},{"r":7,"c":53,"v":1},{"r":7,"c":54,"v":1},{"r":7,"c":55,"v":1},{"r":7,"c":56,"v":1},{"r":7,"c":57,"v":1},{"r":7,"c":58,"v":1},{"r":7,"c":59,"v":1},
{"r":7,"c":60,"v":1},{"r":7,"c":61,"v":1},{"r":7,"c":62,"v":1},{"r":7,"c":63,"v":1},{"r":7,"c":64,"v":1},{"r":7,"c":65,"v":1},{"r":7,"c":66,"v":1},{"r":7,"c":67,"v":1},{"r":7,"c":68,"v":1},{"r":7,"c":69,"v":1},
{"r":7,"c":70,"v":1},{"r":7,"c":71,"v":1},{"r":7,"c":72,"v":1},{"r":7,"c":73,"v":1},{"r":7,"c":74,"v":1},{"r":7,"c":75,"v":1},{"r":7,"c":76,"v":1},{"r":7,"c":77,"v":1},{"r":7,"c":78,"v":1},{"r":7,"c":79,"v":1},
{"r":7,"c":80,"v":1},{"r":7,"c":81,"v":1},{"r":7,"c":82,"v":1},{"r":7,"c":83,"v":1},{"r":7,"c":84,"v":1},{"r":7,"c":85,"v":1},{"r":7,"c":86,"v":1},{"r":7,"c":87,"v":1},{"r":7,"c":88,"v":1},{"r":7,"c":89,"v":1},
{"r":7,"c":90,"v":1},{"r":7,"c":91,"v":1},{"r":7,"c":92,"v":1},{"r":7,"c":93,"v":1},{"r":7,"c":94,"v":0.45},{"r":7,"c":95,"v":0},{"r":7,"c":96,"v":0},{"r":7,"c":97,"v":0.14},{"r":7,"c":98,"v":1},{"r":7,"c":99,"v":1},
{"r":7,"c":100,"v":1},{"r":7,"c":101,"v":1},{"r":7,"c":102,"v":1},{"r":7,"c":103,"v":0},{"r":7,"c":104,"v":0},{"r":7,"c":105,"v":0},{"r":7,"c":106,"v":0.62},{"r":7,"c":107,"v":1},{"r":7,"c":108,"v":1},{"r":7,"c":109,"v":0.77},
{"r":7,"c":110,"v":0},{"r":7,"c":111,"v":0},{"r":7,"c":112,"v":0},{"r":7,"c":113,"v":0},{"r":7,"c":114,"v":0},{"r":7,"c":115,"v":0},{"r":7,"c":116,"v":0},{"r":7,"c":117,"v":0},{"r":7,"c":118,"v":0},{"r":7,"c":119,"v":0},
{"r":7,"c":120,"v":0},{"r":7,"c":121,"v":0},{"r":7,"c":122,"v":0},{"r":7,"c":123,"v":0},{"r":7,"c":124,"v":0},{"r":7,"c":125,"v":0},{"r":7,"c":126,"v":0},{"r":7,"c":127,"v":0},{"r":7,"c":128,"v":0},{"r":7,"c":129,"v":0},
{"r":7,"c":130,"v":0},{"r":7,"c":131,"v":0},{"r":7,"c":132,"v":0},{"r":7,"c":133,"v":0},{"r":7,"c":134,"v":0},{"r":7,"c":135,"v":0},{"r":7,"c":136,"v":0},{"r":7,"c":137,"v":0},{"r":7,"c":138,"v":0},{"r":7,"c":139,"v":0},
{"r":7,"c":140,"v":0},{"r":7,"c":141,"v":0},{"r":7,"c":142,"v":0},{"r":7,"c":143,"v":0},{"r":7,"c":144,"v":0},{"r":7,"c":145,"v":0},{"r":7,"c":146,"v":0},{"r":7,"c":147,"v":0},{"r":7,"c":148,"v":0},{"r":7,"c":149,"v":0},
{"r":7,"c":150,"v":0},{"r":7,"c":151,"v":0},{"r":7,"c":152,"v":0},{"r":7,"c":153,"v":0},{"r":7,"c":154,"v":0},{"r":7,"c":155,"v":0},{"r":7,"c":156,"v":0},{"r":7,"c":157,"v":0},{"r":7,"c":158,"v":0},{"r":7,"c":159,"v":0}
  ]},
  "layer": [
    {
      "mark": {"type": "rect", "strokeWidth": 0.7},
      "encoding": {
        "x": {"field": "c", "type": "ordinal", "scale": {"paddingInner": 0, "paddingOuter": 0},
              "axis": {"orient": "bottom", "values": [0, 20, 40, 60, 80, 100, 120, 140], "labelAngle": 0, "labelPadding": 33}},
        "y": {"field": "r", "type": "ordinal", "scale": {"paddingInner": 0, "paddingOuter": 0},
              "axis": {"orient": "left", "labelPadding": 33}},
        "color": {"field": "v", "type": "quantitative",
                  "scale": {"domain": [0, 1], "range": ["#ffff66", "#008066"], "interpolate": "rgb"},
                  "legend": null},
        "stroke": {"field": "v", "type": "quantitative",
                   "scale": {"domain": [0, 1], "range": ["#ffff66", "#008066"], "interpolate": "rgb"},
                   "legend": null}
      }
    },
    {
      "mark": {"type": "rect", "opacity": 0},
      "encoding": {
        "x": {"field": "c", "type": "ordinal",
              "axis": {"orient": "top", "values": [0, 20, 40, 60, 80, 100, 120, 140], "labels": false}},
        "y": {"field": "r", "type": "ordinal",
              "axis": {"orient": "right", "labels": false}}
      }
    }
  ],
  "resolve": {"axis": {"x": "independent", "y": "independent"}}
}
